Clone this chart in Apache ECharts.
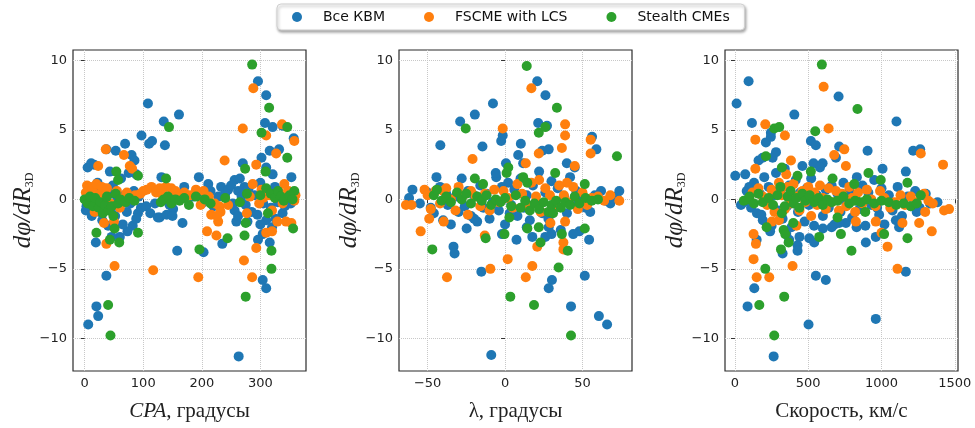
<!DOCTYPE html>
<html>
<head>
<meta charset="utf-8">
<script src="https://cdn.jsdelivr.net/npm/echarts@6/dist/echarts.min.js"></script>
<style>
html, body { margin: 0; background: #fff; }
#main { width: 975px; height: 428px; }
</style>
</head>
<body>
<div id="main"></div>
<script>
var seriesNames = ['Все КВМ', 'FSCME with LCS', 'Stealth CMEs'];
var colors = ['#1f77b4', '#ff7f0e', '#2ca02c'];

// dφ/dR3D против CPA
var cpaAll = [[108,6.9],[97,4.6],[110,4.0],[115,4.2],[135,5.6],[137,3.9],[161,6.1],[158,-3.7],[167,-1.7],[151,-0.7],[5,2.3],[11,2.6],[16,2.5],[2,-0.8],[37,3.6],[53,3.5],[69,4.0],[43,2.0],[80,3.2],[85,2.8],[88,1.8],[19,-3.1],[37,-5.5],[6,-9.0],[20,-7.7],[23,-8.4],[60,-2.7],[46,-2.7],[82,-1.9],[73,-2.3],[91,-1.0],[131,1.6],[128,-1.3],[195,1.6],[211,1.1],[203,-3.8],[235,-3.2],[203,0.5],[233,0.9],[253,-0.3],[256,1.4],[270,2.6],[273,0.9],[259,-1.6],[263,-11.3],[296,8.5],[310,7.5],[308,5.5],[321,5.2],[338,5.3],[316,3.5],[332,3.6],[302,3.0],[310,2.3],[321,1.8],[357,4.4],[353,1.6],[304,-5.8],[310,-6.4],[316,-3.1],[296,-2.9],[304,-2.5],[338,-1.0],[310,-1.5],
  [3,-0.5],[8,0.3],[12,-1.2],[15,0.8],[18,-0.3],[22,1.2],[25,-0.9],[28,0.1],[30,-1.5],[33,0.6],[36,-0.2],[40,-1.9],[42,0.4],[45,-0.7],[48,1.0],[52,-1.2],[55,0.2],[58,-0.5],[62,1.5],[65,-1.8],[68,0.3],[72,-0.9],[75,1.9],[78,-0.3],[84,0.6],[88,-1.4],[92,0.2],[96,-0.6],[105,-0.5],[112,-1.0],[120,-0.3],[125,-1.3],[140,-1.1],[145,-0.4],[150,-1.2],[155,0.3],[170,0.9],[185,0.2],[200,-0.3],[215,0.6],[220,-0.5],[228,0.2],[240,0.4],[245,0.7],[250,1.0],[262,0.6],[265,1.5],[268,0.2],[275,-0.4],[280,0.8],[285,-0.9],[290,0.3],[295,-1.1],[300,1.2],[305,-0.3],[312,0.5],[318,-0.6],[325,0.9],[330,-0.2],[335,0.4],[342,-0.5],[348,0.2],[352,-0.3],[358,0.5],[256,-0.8],[262,-1.2],[278,-1.6],[300,-1.8],[320,-2.0],[326,-1.4]];
var cpaFs = [[4,1.0],[10,0.9],[23,2.4],[36,3.6],[67,3.2],[77,2.4],[81,2.2],[33,-1.7],[37,-3.2],[51,-4.8],[17,-0.9],[117,-5.1],[114,0.9],[139,0.9],[148,0.8],[194,-5.6],[209,-2.3],[225,-2.6],[239,2.8],[216,-1.1],[222,-0.3],[270,5.1],[288,8.0],[272,-4.4],[286,-5.6],[293,-3.5],[293,2.5],[310,4.6],[337,5.4],[327,3.3],[358,4.2],[310,-2.4],[320,-2.3],[344,-1.6],[329,-1.6],[277,-1.0],[287,1.1],[341,1.1],[358,-0.1],[353,-1.7],
  [2,0.5],[7,0.2],[13,0.7],[20,1.1],[26,0.4],[29,0.9],[32,0.1],[38,0.8],[44,-0.3],[50,-1.6],[55,0.6],[60,-0.6],[66,0.1],[72,0.5],[86,0.3],[95,0.4],[100,0.6],[106,0.7],[122,0.5],[128,0.8],[133,0.3],[155,0.6],[160,0.2],[170,0.5],[180,0.3],[190,0.7],[198,-0.4],[203,0.6],[212,0.2],[230,-0.5],[232,-0.9],[245,-0.4],[228,-1.6],[226,-1.2],[282,0.2],[298,-0.3],[302,0.7],[315,0.3],[320,-0.8],[333,0.5],[338,-0.3],[348,0.6],[360,0.3],[305,0.1]];
var cpaSt = [[20,-2.4],[43,-2.9],[51,-2.1],[59,-3.1],[54,2.0],[57,1.4],[91,1.7],[91,-2.4],[40,-7.6],[44,-9.8],[144,5.2],[139,1.5],[196,-3.6],[244,-2.8],[274,2.2],[277,0.4],[275,-1.7],[273,-2.6],[275,-7.0],[286,9.7],[302,4.8],[315,6.6],[346,5.2],[346,3.0],[309,2.0],[319,-3.7],[319,-5.0],[356,-2.1],[313,-1.0],[358,0.6],
  [0,0.0],[5,-0.3],[9,0.2],[14,-0.5],[18,0.1],[24,-0.6],[27,-0.2],[31,-1.0],[35,-0.4],[38,0.2],[41,-0.8],[46,-0.5],[49,-1.2],[53,0.4],[57,-0.3],[61,0.0],[70,-0.2],[76,0.1],[85,-0.1],[130,-0.2],[135,0.0],[142,0.2],[148,-0.3],[155,0.0],[162,-0.1],[170,0.1],[178,-0.4],[190,0.2],[205,0.0],[215,-0.3],[240,0.1],[265,-0.2],[300,0.3],[310,0.8],[318,0.4],[325,0.1],[330,0.6],[335,0.2],[340,-0.1],[350,0.3],[355,0.0]];

// dφ/dR3D против λ
var lamAll = [[-7.8,6.9],[-19.5,6.1],[-29,5.6],[-14.6,3.8],[-41.8,3.9],[-44.3,1.6],[-59.8,0.7],[-62,0.1],[-24.8,-2.1],[-33.3,-3.4],[-32.6,-3.9],[-8.9,-11.2],[-15.3,-5.2],[-2.5,4.2],[-1.5,4.6],[10.2,4.0],[20.8,8.5],[26.1,7.5],[21.4,5.5],[27.1,5.3],[24,3.5],[28.2,3.6],[30.3,-5.8],[28.2,-6.4],[42.6,-7.7],[60.6,-8.4],[65.9,-9.0],[51.5,-5.5],[54.3,-2.9],[56.2,4.5],[59,3.6],[39.9,2.6],[45,2.3],[73.8,0.6],[7.4,-2.9],[17.6,-2.7],[26,-2.7],[28.2,-2.0],[8.5,3.2],[11.7,2.6],[0.6,2.6],[-5.7,1.6],
  [-55,-0.3],[-50,0.5],[-46,-1.0],[-42,0.9],[-40,-1.5],[-37,-0.4],[-35,-1.8],[-32,0.2],[-30,-0.9],[-28,1.5],[-26,-0.5],[-24,0.6],[-22,-1.2],[-20,0.3],[-18,-1.6],[-16,1.0],[-14,-0.6],[-12,0.4],[-10,-1.4],[-8,-0.2],[-6,1.9],[-4,-0.8],[-2,0.9],[0,-1.8],[2,1.2],[4,-0.4],[6,0.7],[8,-1.2],[10,1.5],[12,-0.6],[14,0.3],[16,-1.5],[18,1.0],[20,-0.2],[22,2.0],[24,-1.0],[26,0.5],[28,-1.4],[30,1.3],[32,-0.5],[34,0.8],[36,-2.2],[38,0.2],[40,-1.0],[42,1.6],[44,-0.3],[46,0.6],[48,-2.3],[50,0.2],[52,-0.6],[55,-0.9],[58,0.3],[62,0.6],[65,-0.1],[68,-0.3],[72,0.2],[-48,-0.6],[-38,0.4],[-20,-1.4],[-2,-2.5],[14,-2.0],[30,-2.5],[44,-2.5],[3,-1.0]];
var lamFs = [[-64,-0.4],[-60.4,-0.4],[-54.5,-2.3],[-37.5,-5.6],[-21,2.9],[-1.5,5.1],[1.7,-4.3],[-9.5,-5.0],[17.6,-4.8],[13.4,-5.6],[13.4,2.6],[21.8,3.3],[17,8.0],[38.8,5.4],[38.8,4.6],[36.7,3.7],[55.3,4.3],[55.3,3.3],[45,2.4],[37.7,-3.6],[37.7,-3.1],[38.8,-1.6],[29.3,-1.7],[20.8,-3.4],[73.8,-0.1],[-13.1,-2.6],[-39.6,-1.6],[-49,-1.4],[-52,0.7],
  [-50,0.3],[-48,-0.7],[-45,0.6],[-42,-0.3],[-38,0.8],[-35,0.0],[-32,-0.8],[-30,0.9],[-27,0.3],[-24,-1.1],[-22,0.6],[-19,0.2],[-16,-0.5],[-13,0.4],[-10,-0.8],[-7,0.7],[-4,-0.2],[-1,0.6],[2,0.1],[5,-0.6],[8,1.1],[11,0.4],[14,-0.4],[17,1.2],[20,0.2],[23,-0.9],[26,0.8],[29,0.3],[32,-0.6],[35,1.0],[38,0.3],[41,-0.2],[44,0.9],[47,-0.7],[50,0.5],[53,-0.4],[56,0.1],[60,0.2],[64,-0.1],[68,0.3],[22,1.4],[40,1.2],[-40,0.6]];
var lamSt = [[-25.4,5.1],[-47,-3.6],[-12.5,-2.8],[-19.5,1.5],[-14.2,1.1],[-0.4,-2.5],[2.8,-1.3],[3.4,-7.0],[14,9.6],[11.7,1.6],[14.4,1.2],[21.8,4.8],[26,5.2],[33.5,6.6],[18.7,-7.6],[14.4,-2.1],[21.8,-2.0],[22.9,-3.1],[34.6,-4.9],[36.7,-2.5],[40.5,-3.7],[42.6,-9.8],[51.5,1.1],[51.5,-2.1],[72.3,3.1],[2.1,2.3],[32.4,1.9],[1,1.9],
  [-46,0.3],[-44,0.7],[-41,-0.1],[-38,0.2],[-35,-0.2],[-31,0.5],[-28,0.0],[-25,0.4],[-22,-0.3],[-18,0.2],[-15,-0.1],[-12,0.3],[-9,-0.4],[-6,0.0],[-3,-0.2],[0,0.1],[4,-0.5],[7,0.3],[10,-0.6],[13,-0.1],[16,-0.8],[19,-0.3],[22,-0.7],[25,-0.2],[28,-0.9],[30,-0.4],[33,-0.1],[36,-0.6],[39,-0.2],[42,-0.4],[45,0.2],[48,-0.3],[52,0.1],[56,-0.1],[60,0.0],[31,-1.0]];

// dφ/dR3D против скорости
var velAll = [[11,6.9],[2,1.7],[93,8.5],[116,5.5],[70,1.8],[98,0.9],[41,-0.4],[86,-7.7],[132,-6.4],[211,4.1],[245,4.5],[245,4.8],[161,2.8],[189,3.0],[257,3.0],[280,3.4],[148,-2.9],[264,-11.3],[405,6.1],[427,-3.3],[370,-2.9],[427,-3.7],[325,-3.9],[507,-2.8],[541,-3.1],[502,-9.0],[552,-5.5],[620,-5.8],[518,4.2],[552,3.9],[536,2.6],[598,2.6],[707,7.4],[689,3.0],[711,3.8],[905,3.5],[832,1.6],[961,-8.6],[961,-2.7],[893,-3.1],[1007,2.2],[1166,2.0],[1102,5.6],[1216,3.5],[1264,3.6],[1166,-5.2],[1098,-1.5],[1302,0.4],[1382,-0.2],[1075,-0.8],[984,-1.1],[757,-1.7],[711,-1.7],
  [60,-0.2],[80,0.6],[110,-0.6],[130,1.2],[150,-1.0],[170,0.4],[190,-1.5],[200,1.6],[215,-0.3],[230,0.9],[250,-1.9],[265,0.3],[280,1.9],[295,-0.8],[310,0.6],[325,-1.4],[340,2.2],[355,-0.5],[370,1.0],[385,-2.0],[400,0.2],[415,1.4],[430,-0.9],[445,0.5],[460,2.4],[475,-1.6],[490,0.8],[505,-0.4],[520,1.5],[540,-1.9],[560,0.3],[580,2.3],[600,-1.2],[620,0.7],[640,-0.6],[660,1.0],[680,-1.8],[700,0.4],[720,-0.9],[740,1.2],[760,-0.3],[780,0.6],[800,-1.3],[820,0.2],[850,-0.7],[870,1.0],[890,-1.9],[910,0.5],[930,-0.4],[950,1.4],[970,-0.6],[1000,0.8],[1020,-1.8],[1050,0.3],[1080,-0.4],[1110,0.9],[1140,-1.2],[1180,0.2],[1200,-0.5],[1230,0.6],[1260,-0.6],[1280,0.3],[1330,-0.3],[1120,-2.0],[1240,-0.9],[180,-1.1],[240,-2.3],[350,-2.5],[440,-2.7],[600,-2.1],[830,-2.0],[660,-2.0]];
var velFs = [[207,5.4],[139,4.3],[139,2.2],[127,-2.5],[143,-3.2],[127,-4.3],[148,-5.6],[234,-5.6],[252,-1.6],[341,4.6],[393,-4.8],[382,2.8],[605,8.1],[639,5.1],[746,3.6],[757,2.4],[677,3.2],[825,-1.6],[961,-1.6],[1000,-2.4],[1041,-3.4],[1109,-5.0],[1143,-1.7],[1257,-1.7],[1268,3.3],[1298,-0.9],[1343,-2.3],[1420,2.5],[1427,-0.8],[1461,-0.7],
  [120,0.5],[160,0.8],[190,0.2],[220,-0.4],[250,0.7],[270,-0.9],[300,1.2],[320,0.3],[340,-0.7],[360,0.9],[380,-0.3],[400,1.1],[420,0.2],[440,-0.8],[460,0.6],[480,-0.2],[500,0.9],[520,-1.2],[540,0.5],[560,-0.4],[580,1.0],[600,0.1],[620,-0.7],[640,0.8],[660,-0.2],[690,0.6],[710,-0.8],[730,0.4],[760,-0.5],[780,0.9],[800,0.1],[820,-0.9],[840,0.5],[870,-0.3],[900,0.7],[930,0.0],[960,-0.5],[990,0.6],[1020,0.1],[1060,-0.6],[1090,-0.2],[1130,0.3],[1160,-0.4],[1200,0.2],[1240,-0.2],[1290,0.4],[1320,-0.1],[1350,-0.3],[300,-1.5],[420,-1.9],[350,1.8]];
var velSt = [[86,0],[211,3.1],[216,-2.0],[207,-5.0],[166,-7.6],[268,5.1],[302,5.2],[320,2.3],[320,-1.0],[314,-3.6],[332,-2.2],[343,-2.5],[366,-3.1],[398,-1.7],[336,-7.0],[268,-9.8],[427,1.7],[548,4.9],[518,2.0],[575,-2.7],[593,9.7],[836,6.5],[666,1.5],[723,-2.5],[795,-3.7],[814,1.1],[911,1.9],[995,1.4],[1018,-2.5],[889,-0.9],[700,-1.3],[1177,1.2],[1177,-2.8],[1268,0.3],
  [60,-0.1],[100,0.2],[130,-0.3],[160,0.4],[190,-0.2],[230,0.1],[260,-0.4],[290,0.3],[310,0.9],[340,-0.5],[360,0.2],[380,0.6],[400,-0.3],[420,0.1],[440,-0.6],[460,0.4],[480,-0.1],[510,0.3],[540,-0.2],[570,0.1],[600,-0.4],[630,0.0],[660,-0.2],[700,-0.1],[740,0.2],[780,-0.3],[820,-0.1],[860,-0.2],[900,0.0],[950,-0.3],[1000,-0.1],[1050,-0.2],[1100,-0.4],[1150,-0.3],[1200,-0.5],[1240,-0.3]];

var yTicks = [-10, -5, 0, 5, 10];
var cpaTicks = [0, 100, 200, 300];
var lamTicks = [-50, 0, 50];
var velTicks = [0, 500, 1000, 1500];

var xTitles = ['{i|CPA}, градусы', 'λ, градусы', 'Скорость, км/с'];

var myChart = echarts.init(document.getElementById('main'));

// минус как в matplotlib
function fmt(v) {
    return v < 0 ? '\u2212' + (-v) : String(v);
}

var gridLefts = [73, 399, 725];
var xRanges = [[-20, 378], [-68.5, 82], [-68, 1522]];
var xTickSets = [cpaTicks, lamTicks, velTicks];
var panels = [[cpaAll, cpaFs, cpaSt], [lamAll, lamFs, lamSt], [velAll, velFs, velSt]];

var grids = [], xAxes = [], yAxes = [], series = [];
for (var i = 0; i < 3; i++) {
    grids.push({
        left: gridLefts[i], top: 50, width: 233, height: 321,
        show: true, borderColor: '#2b2b2b', borderWidth: 1.2
    });
    xAxes.push({
        gridIndex: i, type: 'value',
        min: xRanges[i][0], max: xRanges[i][1],
        name: xTitles[i], nameLocation: 'middle', nameGap: 30,
        nameTextStyle: {
            fontFamily: 'Liberation Serif', fontSize: 21, color: '#222',
            rich: { i: { fontFamily: 'Liberation Serif', fontStyle: 'italic', fontSize: 21, color: '#222' } }
        },
        axisLine: { show: false },
        axisTick: { show: true, length: 4, customValues: xTickSets[i], lineStyle: { color: '#333' } },
        axisLabel: { customValues: xTickSets[i], fontFamily: 'DejaVu Sans', fontSize: 13, color: '#222', margin: 6, formatter: fmt },
        splitLine: { show: true, lineStyle: { type: 'dotted', color: '#c8c8c8' } }
    });
    yAxes.push({
        gridIndex: i, type: 'value',
        min: -12.35, max: 10.75,
        name: '{a|dφ/dR}{b|3D}', nameLocation: 'middle', nameGap: 33,
        nameTextStyle: {
            rich: {
                a: { fontFamily: 'Liberation Serif', fontStyle: 'italic', fontSize: 25, color: '#222' },
                b: { fontFamily: 'Liberation Serif', fontSize: 12, color: '#222', padding: [13, 0, 0, 0] }
            }
        },
        axisLine: { show: false },
        axisTick: { show: true, length: 4, customValues: yTicks, lineStyle: { color: '#333' } },
        axisLabel: { customValues: yTicks, fontFamily: 'DejaVu Sans', fontSize: 13, color: '#222', margin: 6, formatter: fmt },
        splitLine: { show: true, lineStyle: { type: 'dotted', color: '#c8c8c8' } }
    });
    for (var k = 0; k < 3; k++) {
        series.push({
            name: seriesNames[k], type: 'scatter',
            xAxisIndex: i, yAxisIndex: i,
            symbolSize: 10,
            itemStyle: { color: colors[k], opacity: 1 },
            data: panels[i][k]
        });
    }
}

var myOption = {
    animation: false,
    color: colors,
    legend: {
        data: seriesNames,
        left: 277, top: 4,
        padding: [6, 15, 6, 15],
        icon: 'circle', itemWidth: 10, itemHeight: 10, itemGap: 39,
        borderColor: '#cfcfcf', borderWidth: 1, borderRadius: 4,
        backgroundColor: '#fff',
        shadowColor: 'rgba(0,0,0,0.35)', shadowBlur: 3, shadowOffsetX: 1, shadowOffsetY: 2,
        textStyle: { fontFamily: 'DejaVu Sans', fontSize: 14, color: '#111', padding: [0, 0, 0, 16] }
    },
    grid: grids,
    xAxis: xAxes,
    yAxis: yAxes,
    series: series
};

myChart.setOption(myOption);
</script>
</body>
</html>
